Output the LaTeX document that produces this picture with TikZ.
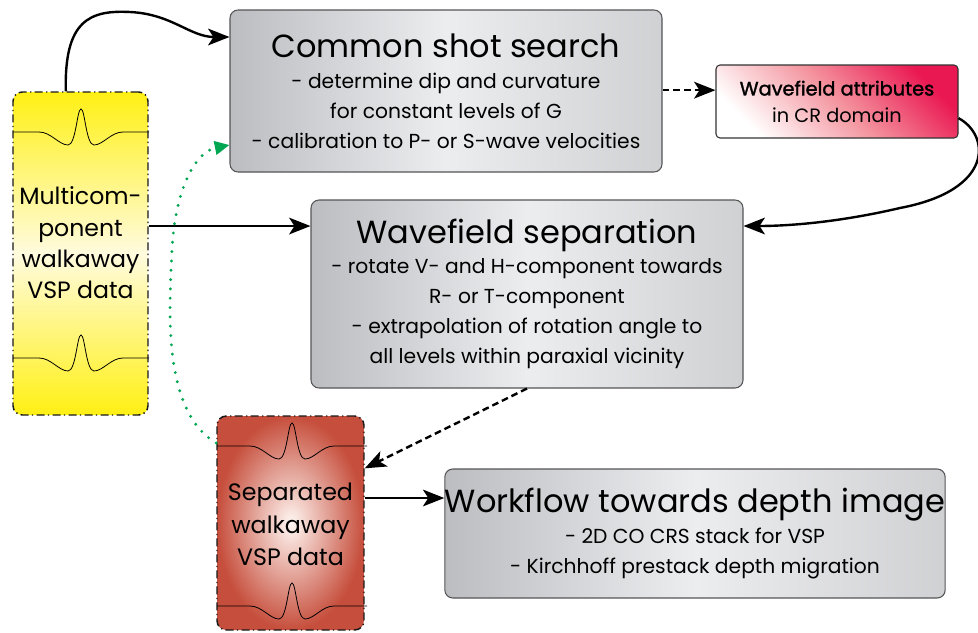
\documentclass[tikz,border=0pt]{standalone}
\usepackage{fontspec}
\setmainfont{Poppins}
\newfontfamily\medfont{Poppins}[FakeBold=1.6]
\usetikzlibrary{arrows.meta}

\definecolor{boxgray}{RGB}{188,189,193}
\definecolor{boxlight}{RGB}{236,237,239}
\definecolor{boxline}{RGB}{85,85,88}
\definecolor{vspyellow}{RGB}{255,240,20}
\definecolor{vsppale}{RGB}{255,251,222}
\definecolor{sepred}{RGB}{198,78,60}
\definecolor{seppale}{RGB}{255,246,242}
\definecolor{attred}{RGB}{234,24,82}
\definecolor{attpink}{RGB}{244,150,160}
\definecolor{dotgreen}{RGB}{0,166,81}

\newcommand{\titlesize}{\fontsize{24}{27}\selectfont}
\newcommand{\linesize}{\fontsize{15.2}{22.5}\selectfont}

\tikzset{
  graybox/.style={draw=boxline, line width=0.8pt, rounded corners=6pt,
    left color=boxgray, right color=boxgray!70!white, middle color=boxlight,
    align=center, inner sep=0pt, font=\linesize},
  databox/.style={draw=black!90, line width=1.1pt, dash pattern=on 6pt off 2.5pt on 1pt off 2.5pt,
    rounded corners=7pt, inner sep=0pt},
  arr/.style={line width=1.8pt, -{Stealth[length=16pt,width=12.5pt,inset=4pt]}},
  dasharr/.style={arr, dash pattern=on 5pt off 3pt},
  wavelet/.pic={
    \draw[line width=0.6pt, solid] (-#1,0) -- (-42,0) .. controls (-30,0) and (-22,-13) .. (-13,-13)
      .. controls (-5,-13) and (-4,23) .. (0,23) .. controls (4,23) and (5,-13) .. (13,-13)
      .. controls (22,-13) and (30,0) .. (42,0) -- (#1,0);
  }
}

\begin{document}
\begin{tikzpicture}[x=0.75pt,y=0.75pt,yscale=-1,xscale=1]
\useasboundingbox (0,0) rectangle (978,632);

% Boxes
\node[graybox, minimum width=324pt, minimum height=121.5pt] (common) at (446,91)
  {{\titlesize Common shot search}\\[1pt]
   - determine dip and curvature\\ for constant levels of G\\ - calibration to P- or S-wave velocities};
\node[draw=black!80, line width=0.8pt, rounded corners=3pt, inner sep=0pt,
  top color=attred, bottom color=white, middle color=attpink, shading angle=-45,
  minimum width=181.5pt, minimum height=54.75pt, align=center,
  font=\fontsize{14.5}{20}\selectfont] (attrib) at (837,101.5)
  {{\medfont Wavefield attributes}\\ in CR domain};
\node[graybox, minimum width=324pt, minimum height=141pt] (sep) at (527,294)
  {{\titlesize Wavefield separation}\\[0pt]
   - rotate V- and H-component towards\\ R- or T-component\\
   - extrapolation of rotation angle to\\ all levels within paraxial vicinity};
\node[graybox, minimum width=373.5pt, minimum height=96.75pt] (work) at (695,533.5)
  {{\titlesize Workflow towards depth image}\\[1pt]
   - 2D CO CRS stack for VSP\\ - Kirchhoff prestack depth migration};

% Data boxes
\node[databox, top color=vspyellow, bottom color=vspyellow, middle color=vsppale,
  minimum width=101.25pt, minimum height=242.25pt] (multi) at (80.5,253.5) {};
\node[databox, inner color=seppale, outer color=sepred,
  minimum width=110.25pt, minimum height=160.5pt] (separated) at (290.5,523) {};

% Wavelets
\pic at (81,132) {wavelet=68};
\pic at (81,358) {wavelet=68};
\pic at (292,446) {wavelet=75};
\pic at (292,606) {wavelet=75};

% Text Node
\node[align=center, font=\fontsize{17.7}{23.5}\selectfont] (multitext) at (80.5,243)
  {Multicom-\\ponent\\walkaway\\VSP data};
\node[align=center, font=\fontsize{17.8}{24.5}\selectfont] (septext) at (290.5,524.5)
  {Separated\\walkaway\\VSP data};

% Connectors
\draw[arr] ([xshift=-11pt]multi.north) .. controls (64,20) and (90,10) .. (130,12)
  .. controls (172,14) and (190,37) .. ([yshift=-40.5pt]common.west);
\coordinate (a1) at ([yshift=-8.5pt]attrib.west);
\draw[dasharr] (a1 -| common.east) -- (a1);
\draw[arr] ([yshift=12.5pt]attrib.east) .. controls (990,135) and (995,190) .. (900,208)
  .. controls (840,222) and (790,226) .. ([yshift=-51pt]sep.west -| sep.east);
\coordinate (m1) at ([yshift=-20.6pt]multi.east);
\draw[arr] (m1) -- (m1 -| sep.west);
\draw[dasharr] (sep.south) -- ([yshift=-41pt]separated.east);
\coordinate (s1) at ([yshift=-18.75pt]separated.east);
\draw[arr] (s1) -- (s1 -| work.west);
\draw[dotgreen, line width=2.4pt, line cap=round, dash pattern=on 0pt off 7pt,
  -{Triangle[length=11pt,width=10pt,fill=dotgreen]}]
  ([yshift=-60pt]separated.west) .. controls (160,410) and (170,300) .. (172,250)
  .. controls (175,190) and (195,152) .. ([yshift=40.5pt]common.west);

\end{tikzpicture}
\end{document}
